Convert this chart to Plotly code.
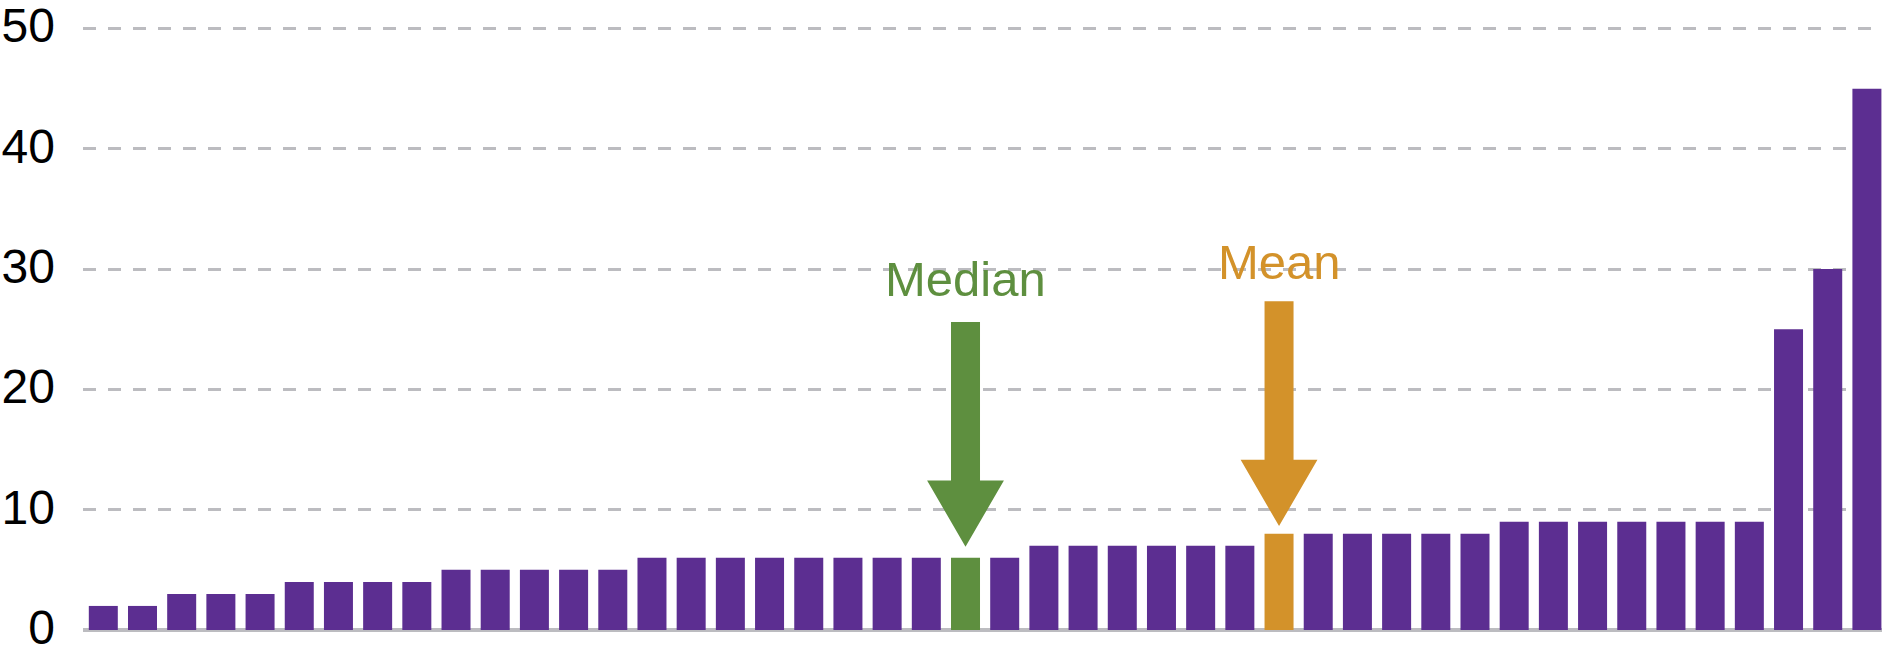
import plotly.graph_objects as go

# ---- data ----
values = [2, 2, 3, 3, 3, 4, 4, 4, 4, 5, 5, 5, 5, 5,
          6, 6, 6, 6, 6, 6, 6, 6, 6, 6,
          7, 7, 7, 7, 7, 7,
          8, 8, 8, 8, 8, 8,
          9, 9, 9, 9, 9, 9, 9,
          25, 30, 45]
median_index = 22
mean_index = 30
marker_labels = ["Median", "Mean"]
y_ticks = [0, 10, 20, 30, 40, 50]

# ---- styles ----
PURPLE = "#5C2E91"
GREEN = "#5E8F3F"
ORANGE = "#D3922A"
GRID = "#BCBCC0"
FONT = "Liberation Sans, Arial, sans-serif"

x = list(range(len(values)))
colors = [PURPLE] * len(values)
colors[median_index] = GREEN
colors[mean_index] = ORANGE

fig = go.Figure()
fig.add_trace(go.Bar(x=x, y=values, marker=dict(color=colors, line=dict(width=0)),
                     hoverinfo="skip"))

# arrow geometry (data units), built relative to the bar it points at
SHAFT_HW = 0.37
HEAD_HW = 0.98
HEAD_H = 5.51
SHAFT_L = 13.17


def arrow_path(cx, tip):
    base = tip + HEAD_H
    top = base + SHAFT_L
    pts = [(cx, tip), (cx - HEAD_HW, base), (cx - SHAFT_HW, base), (cx - SHAFT_HW, top),
           (cx + SHAFT_HW, top), (cx + SHAFT_HW, base), (cx + HEAD_HW, base)]
    return "M " + " L ".join(f"{a},{b}" for a, b in pts) + " Z"


arrow_specs = [
    (median_index, 0.92, 3.6, GREEN, marker_labels[0]),
    (mean_index, 0.64, 3.25, ORANGE, marker_labels[1]),
]
for idx, tip_gap, text_gap, col, label in arrow_specs:
    tip = values[idx] + tip_gap
    fig.add_shape(type="path", path=arrow_path(idx, tip), xref="x", yref="y",
                  fillcolor=col, line=dict(width=0), layer="above")
    text_y = tip + HEAD_H + SHAFT_L + text_gap
    fig.add_annotation(x=idx, y=text_y, xref="x", yref="y", text=label, showarrow=False,
                       xanchor="center", yanchor="middle",
                       font=dict(family=FONT, size=49, color=col))

fig.update_layout(
    width=1882, height=667,
    margin=dict(l=83, r=0, t=0, b=37),
    paper_bgcolor="white", plot_bgcolor="white",
    bargap=0.26,
    showlegend=False,
    font=dict(family=FONT, size=48, color="black"),
)
fig.update_xaxes(range=[-0.518, 45.385], showticklabels=False, showgrid=False,
                 zeroline=False, showline=False, ticks="")
fig.update_yaxes(range=[0, 51.87], tickvals=y_ticks, ticktext=[str(v) for v in y_ticks],
                 showgrid=True, gridcolor=GRID, gridwidth=3.3, griddash="13px,12px",
                 zeroline=True, zerolinecolor=GRID, zerolinewidth=3.5,
                 showline=False, ticks="", ticklabelstandoff=27, ticklabelshift=-3,
                 ticklabeloverflow="allow",
                 tickfont=dict(family=FONT, size=48, color="black"))

fig.write_html(
    "out.html",
    config={"displayModeBar": False},
    post_script="document.body.style.margin='0';document.body.style.overflow='hidden';",
)
